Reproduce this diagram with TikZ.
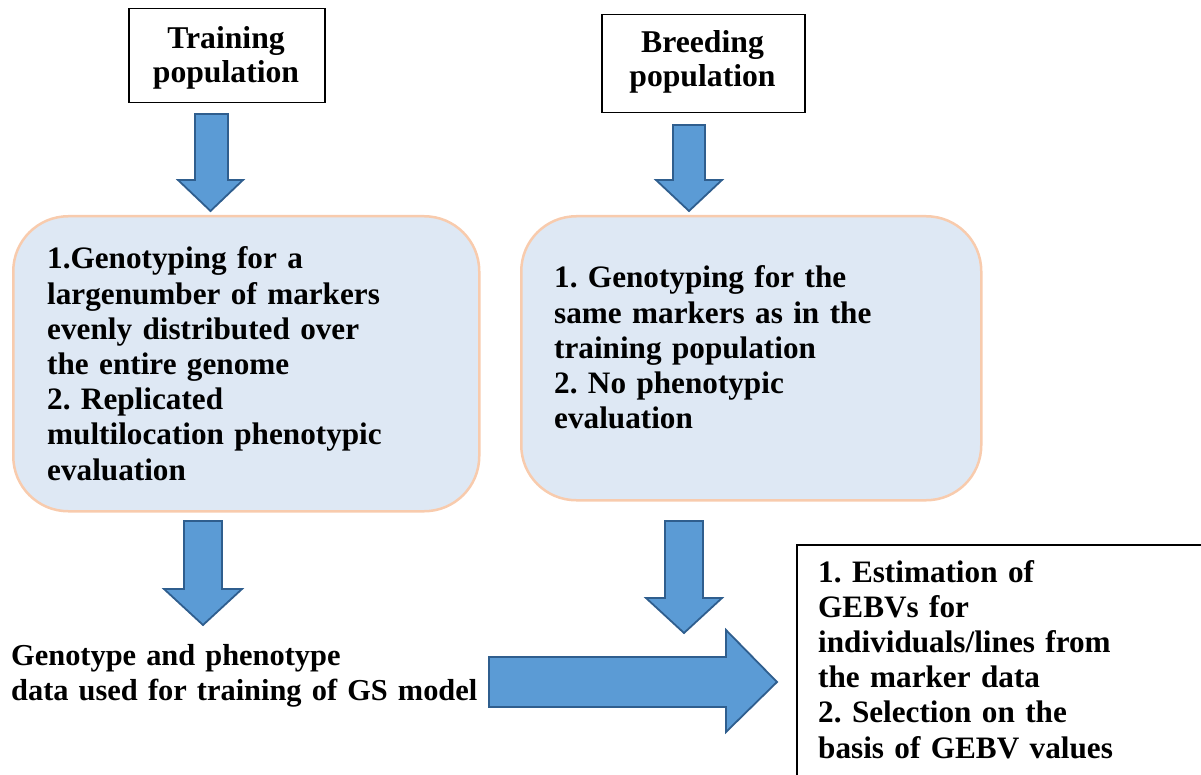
\documentclass[tikz,border=0pt]{standalone}
\usepackage{fontspec}
\setmainfont{Liberation Serif}
\frenchspacing
\definecolor{arrowblue}{HTML}{5B9BD5}
\definecolor{arrowedge}{HTML}{2F5E8E}
\definecolor{boxfill}{HTML}{DEE8F4}
\definecolor{peach}{HTML}{F8CBAD}
\begin{document}
\begin{tikzpicture}[x=1pt,y=-1pt,
  txt/.style={font=\fontsize{31.2}{35.2}\selectfont\bfseries, inner sep=0pt, align=left, anchor=base west, text width=#1},
  ctxt/.style={font=\fontsize{31.7}{34}\selectfont\bfseries, inner sep=0pt, align=center, anchor=base, text width=#1},
  blk/.style={draw=black, line width=1.5pt, inner sep=0pt, anchor=north west},
  rbox/.style={draw=peach, fill=boxfill, line width=2.5pt, rounded corners=55pt, inner sep=0pt, anchor=north west},
  barrow/.style={draw=arrowedge, fill=arrowblue, line width=1.8pt, line join=miter}]
\useasboundingbox (0,0) rectangle (1201,775);

% top boxes
\node[blk, minimum width=196pt, minimum height=94pt] (train) at (128,8) {};
\node[ctxt=190pt] (traintxt) at (226,49) {Training\\population};
\node[blk, minimum width=203pt, minimum height=98pt] (breed) at (601,14) {};
\node[ctxt=200pt] (breedtxt) at (702.5,53) {Breeding\\population};

% rounded boxes
\node[rbox, minimum width=466pt, minimum height=295pt] (gbox) at (12,215) {};
\node[txt=420pt] (gtxt) at (47,269) {1.Genotyping for a\\largenumber of markers\\evenly distributed over\\the entire genome\\2. Replicated\\multilocation phenotypic\\evaluation};
\node[rbox, minimum width=460pt, minimum height=284pt] (bbox) at (520,215) {};
\node[txt=420pt] (btxt) at (554,288) {1. Genotyping for the\\same markers as in the\\training population\\2. No phenotypic\\evaluation};

% bottom left text
\node[txt=520pt, font=\fontsize{30.4}{35}\selectfont\bfseries] (gstxt) at (11,665) {Genotype and phenotype\\data used for training of GS model};

% result box (runs off the page)
\node[blk, minimum width=500pt, minimum height=300pt] (gebv) at (796,544) {};
\node[txt=380pt] (gebvtxt) at (818,582) {1. Estimation of\\GEBVs for\\individuals/lines from\\the marker data\\2. Selection on the\\basis of GEBV values};

% block arrows
\draw[barrow] (195,114) -- (228,114) -- (228,180) -- (243,180) -- (210.5,211) -- (178,180) -- (195,180) -- cycle;
\draw[barrow] (673,125) -- (705,125) -- (705,180) -- (722,180) -- (689,211) -- (656,180) -- (673,180) -- cycle;
\draw[barrow] (184,521) -- (222,521) -- (222,589) -- (242,589) -- (203,625) -- (164,589) -- (184,589) -- cycle;
\draw[barrow] (665,521) -- (703,521) -- (703,598) -- (722,598) -- (684,633) -- (646,598) -- (665,598) -- cycle;
\draw[barrow] (489,657) -- (726,657) -- (726,630) -- (777,682) -- (726,732) -- (726,707) -- (489,707) -- cycle;
\end{tikzpicture}
\end{document}
